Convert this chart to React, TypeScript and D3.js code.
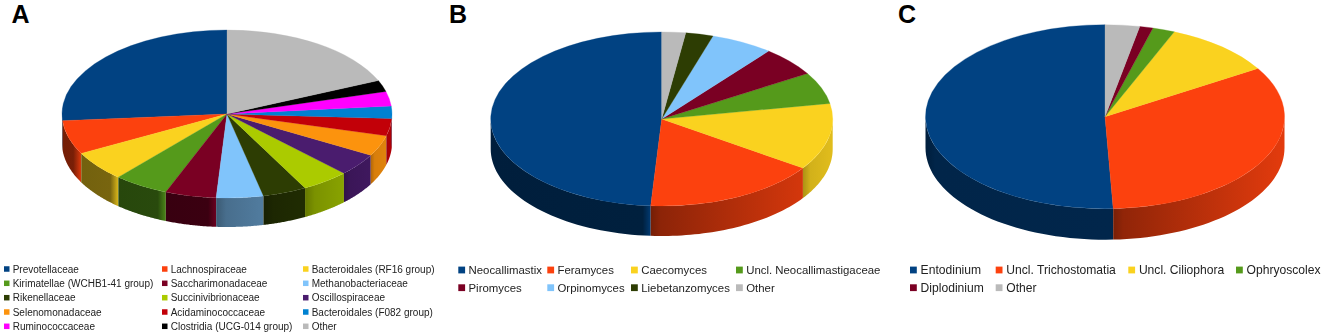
// App.tsx
import * as d3 from 'd3';

const familyNames = [
  'Prevotellaceae', 'Lachnospiraceae', 'Bacteroidales (RF16 group)',
  'Kirimatellae (WCHB1-41 group)', 'Saccharimonadaceae', 'Methanobacteriaceae',
  'Rikenellaceae', 'Succinivibrionaceae', 'Oscillospiraceae',
  'Selenomonadaceae', 'Acidaminococcaceae', 'Bacteroidales (F082 group)',
  'Ruminococcaceae', 'Clostridia (UCG-014 group)', 'Other',
];
const familyValues = [26.3, 6.5, 5.8, 5.4, 5.0, 4.6, 4.3, 4.7, 4.3, 4.0, 3.3, 2.4, 2.8, 2.2, 18.5];
const familyColors = [
  '#014282', '#fc410e', '#fad21f', '#559a1b', '#7a0023', '#80c4fb', '#2d3d03', '#abcb00',
  '#4a1c6e', '#fc930d', '#c20008', '#0081d1', '#ff00ff', '#000000', '#bababa',
];

const fungiNames = [
  'Neocallimastix', 'Feramyces', 'Caecomyces', 'Uncl. Neocallimastigaceae',
  'Piromyces', 'Orpinomyces', 'Liebetanzomyces', 'Other',
];
const fungiValues = [49.0, 16.5, 12.4, 5.9, 5.5, 5.9, 2.6, 2.25];
const fungiColors = ['#014282', '#fc410e', '#fad21f', '#559a1b', '#7a0023', '#80c4fb', '#2d3d03', '#bababa'];

const protozoaNames = ['Entodinium', 'Uncl. Trichostomatia', 'Uncl. Ciliophora', 'Ophryoscolex', 'Diplodinium', 'Other'];
const protozoaValues = [50.7, 33.05, 9.9, 2.0, 1.2, 3.1];
const protozoaColors = ['#014282', '#fc410e', '#fad21f', '#559a1b', '#7a0023', '#bababa'];

const TAU = Math.PI * 2;
const FONT = '"Liberation Sans", Arial, sans-serif';

function shade(color: string, k: number) {
  const c = d3.rgb(color);
  return d3.rgb(c.r * k, c.g * k, c.b * k).formatHex();
}

// wall brightness by horizontal position on the pie (-1 left .. 1 right)
const rightShade = d3.scaleLinear().domain([0, 1]).range([0.56, 0.9]);

function wallStops(u0: number, u1: number, widthPx: number) {
  if (u1 <= 0.02) {
    const edge = Math.max(0, 1 - 8 / widthPx);
    return [[0, 0.46], [edge, 0.48], [1, 0.88]];
  }
  const from = rightShade(Math.max(u0, 0));
  const lead = Math.min(0.25, 10 / widthPx);
  return [[0, from * 0.82], [lead, from], [1, rightShade(u1)]];
}

type PieProps = {
  id: string; values: number[]; colors: string[];
  cx: number; cy: number; rx: number; ry: number; depth: number;
};

function Pie3D({ id, values, colors, cx, cy, rx, ry, depth }: PieProps) {
  // counter-clockwise from twelve o'clock
  const slices = d3.pie<number>().sort(null).startAngle(TAU).endAngle(0)(values);
  const arc = d3.arc<d3.PieArcDatum<number>>().innerRadius(0).outerRadius(rx);

  const px = (a: number) => cx + rx * Math.sin(a);
  const py = (a: number) => cy - ry * Math.cos(a);
  const wall = d3.area<number>().x(px).y0(py).y1((a) => py(a) + depth);

  const walls = slices.flatMap((s, i) => {
    const lo = Math.max(Math.min(s.startAngle, s.endAngle), Math.PI / 2);
    const hi = Math.min(Math.max(s.startAngle, s.endAngle), Math.PI * 1.5);
    if (lo >= hi) return [];
    const angles = d3.range(41).map((k) => lo + ((hi - lo) * k) / 40);
    const x1 = px(hi);
    const x2 = px(lo);
    const stops = wallStops((x1 - cx) / rx, (x2 - cx) / rx, x2 - x1);
    return [{ i, d: wall(angles) as string, x1, x2, stops }];
  });

  return (
    <g style={{ filter: 'blur(0.35px)' }}>
      <defs>
        {walls.map((w) => (
          <linearGradient key={w.i} id={`${id}-w${w.i}`} gradientUnits="userSpaceOnUse" x1={w.x1} x2={w.x2} y1={0} y2={0}>
            {w.stops.map(([t, k]) => (
              <stop key={t} offset={t} stopColor={shade(colors[w.i], k)} />
            ))}
          </linearGradient>
        ))}
      </defs>
      {walls.map((w) => (
        <path key={w.i} d={w.d} fill={`url(#${id}-w${w.i})`} />
      ))}
      <g transform={`translate(${cx},${cy}) scale(1,${ry / rx})`}>
        {slices.map((s, i) => (
          <path key={i} d={arc(s) as string} fill={colors[i]} stroke={colors[i]} strokeWidth={0.4} />
        ))}
      </g>
    </g>
  );
}

type LegendProps = {
  names: string[]; colors: string[]; columns: number[]; rows: number[];
  fontSize: number; swatch: number; gap: number;
};

function Legend({ names, colors, columns, rows, fontSize, swatch, gap }: LegendProps) {
  return (
    <g fontFamily={FONT} fontSize={fontSize} fill="#222" style={{ filter: 'blur(0.25px)' }}>
      {names.map((name, i) => {
        const col = i % columns.length;
        const x = columns[col];
        const y = rows[Math.floor(i / columns.length)];
        return (
          <g key={name}>
            <rect x={x} y={y - swatch / 2} width={swatch} height={swatch} fill={colors[i]} />
            <text x={x + swatch + gap} y={y} dominantBaseline="central">{name}</text>
          </g>
        );
      })}
    </g>
  );
}

const panelLabels = [
  { text: 'A', x: 11.5 },
  { text: 'B', x: 449 },
  { text: 'C', x: 898 },
];

export default function App() {
  return (
    <svg width={1325} height={336} style={{ position: 'absolute', left: 0, top: 0, background: '#fff' }}>
      {panelLabels.map((p) => (
        <text key={p.text} x={p.x} y={23} fontFamily={FONT} fontWeight={700} fontSize={25} fill="#000">
          {p.text}
        </text>
      ))}
      <Pie3D id="a" values={familyValues} colors={familyColors} cx={227} cy={114} rx={165} ry={84} depth={29} />
      <Pie3D id="b" values={fungiValues} colors={fungiColors} cx={661.7} cy={119} rx={171} ry={87} depth={30} />
      <Pie3D id="c" values={protozoaValues} colors={protozoaColors} cx={1105} cy={116.7} rx={179.5} ry={92} depth={31} />
      <Legend names={familyNames} colors={familyColors} columns={[4, 162, 303]} rows={[269, 283.3, 297.7, 312, 326.3]} fontSize={10} swatch={5.5} gap={3.2} />
      <Legend names={fungiNames} colors={fungiColors} columns={[458.3, 547.3, 631, 736]} rows={[270, 287.7]} fontSize={11.4} swatch={6.8} gap={3.4} />
      <Legend names={protozoaNames} colors={protozoaColors} columns={[910, 995.7, 1128.3, 1236]} rows={[270, 287.7]} fontSize={12.1} swatch={6.8} gap={3.8} />
    </svg>
  );
}
